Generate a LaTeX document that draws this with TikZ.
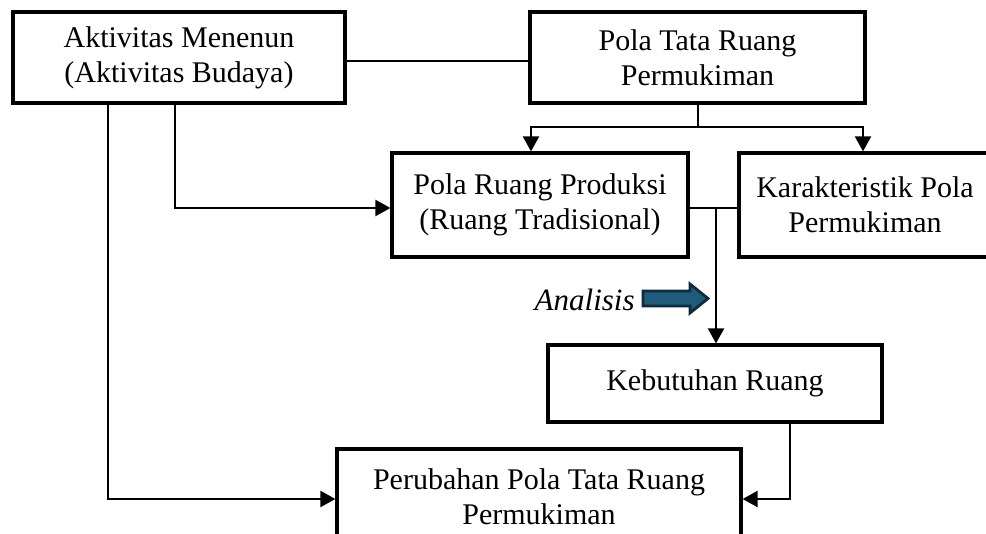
\documentclass[tikz,border=0pt]{standalone}
\usepackage{fontspec}
\setmainfont{Liberation Serif}
\usetikzlibrary{arrows.meta,positioning}

\tikzset{
  box/.style={draw,line width=1.6pt,align=center,inner sep=0pt,
    font=\fontsize{15}{17.5}\selectfont},
  link/.style={line width=1pt},
  flow/.style={link,-{Triangle[length=7.5pt,width=8pt]}}
}
\definecolor{arrowblue}{HTML}{1F5B7B}
\definecolor{arrowedge}{HTML}{0E2C3E}

\begin{document}
\begin{tikzpicture}[x=0.5pt,y=-0.5pt]

      \clip (0,0) rectangle (986,534);
      \fill[white] (0,0) rectangle (986,534);

      % boxes
      \node[box,minimum width=166pt,minimum height=45.5pt] (akt) at (179,57.5)
        {Aktivitas Menenun\\(Aktivitas Budaya)};
      \node[box,minimum width=167.5pt,minimum height=45.5pt] (pola) at (697.5,57.5)
        {Pola Tata Ruang\\Permukiman};
      \node[box,minimum width=148pt,minimum height=52pt] (prod) at (540,205)
        {Pola Ruang Produksi\\(Ruang Tradisional)};
      \node[box,minimum width=126pt,minimum height=52pt] (kar) at (865,205)
        {Karakteristik Pola\\Permukiman};
      \node[box,minimum width=167pt,minimum height=38.5pt] (keb) at (715,383.5)
        {Kebutuhan Ruang};
      \node[box,minimum width=202pt,minimum height=48pt] (per) at (539,497)
        {Perubahan Pola Tata Ruang\\Permukiman};

      % helper points
      \coordinate (split) at (698,127);
      \coordinate (splitl) at (531,127);
      \coordinate (splitr) at (863,127);
      \coordinate (join) at (716,208);

      % connectors
      \draw[link] (akt.east |- 0,61) -- (pola.west |- 0,61);
      \draw[link] (pola.south -| split) -- (split);
      \draw[flow] (split) -- (splitl) -- (splitl |- prod.north);
      \draw[flow] (split) -- (splitr) -- (splitr |- kar.north);
      \draw[flow] (akt.south -| 175,0) -- (175,208) -- (prod.west |- 0,208);
      \draw[flow] (akt.south -| 108,0) -- (108,499) -- (per.west |- 0,499);
      \draw[link] (prod.east |- join) -- (kar.west |- join);
      \draw[flow] (join) -- (join |- keb.north);
      \draw[flow] (keb.south -| 790,0) -- (790,499) -- (per.east |- 0,499);

      % analysis marker
      \node[font=\fontsize{15.5}{17.5}\selectfont\itshape,anchor=east,inner sep=0pt]
        (ana) at (635,300) {Analisis};
      \draw[arrowedge,fill=arrowblue,line width=1.4pt,line join=miter]
        (643,291) -- (690,291) -- (690,284) -- (708,298.5) -- (690,313)
        -- (690,306) -- (643,306) -- cycle;

    \end{tikzpicture}
\end{document}
